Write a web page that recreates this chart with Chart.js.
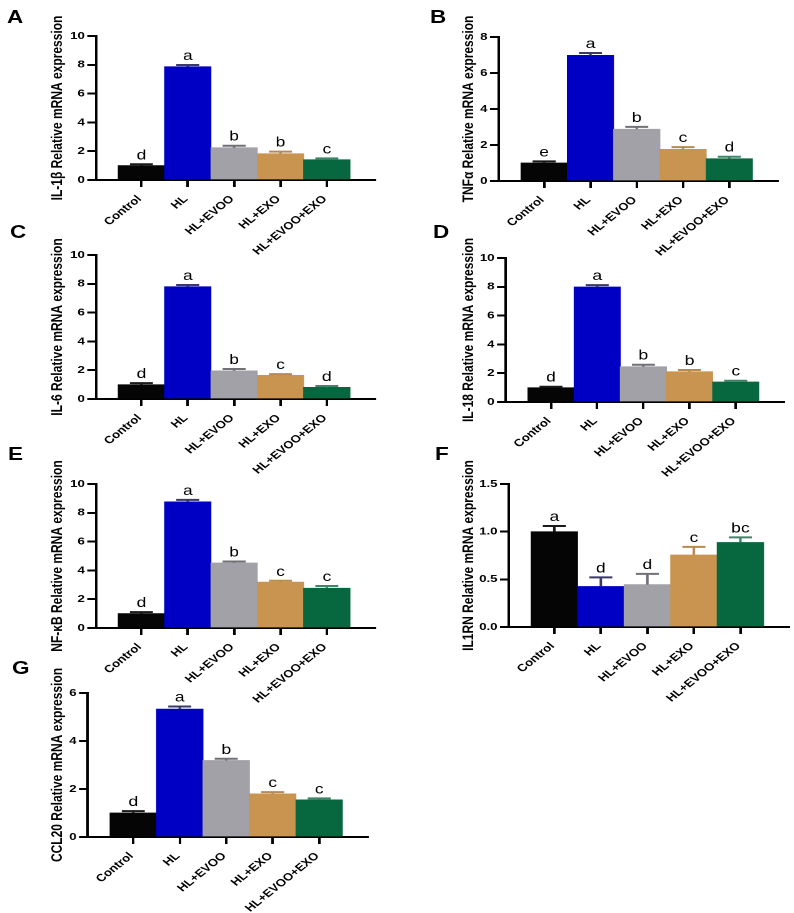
<!DOCTYPE html>
<html>
<head>
<meta charset="utf-8">
<script src="https://cdn.jsdelivr.net/npm/chart.js@4.4.0/dist/chart.umd.min.js"></script>
<style>
  html, body { margin: 0; padding: 0; background: #fff; overflow: hidden; }
  /* the source figure is stretched sideways, so draw narrow and widen the whole thing */
  #fig { position: relative; width: 635.2px; height: 913px; transform: scaleX(1.25); transform-origin: 0 0; }
  #fig canvas { position: absolute; }
  .tag { position: absolute; font: bold 18px "Liberation Sans", Arial, sans-serif; line-height: 18px; color: #000; }
</style>
</head>
<body>
<div id="fig"></div>
<script>
const groups = ['Control', 'HL', 'HL+EVOO', 'HL+EXO', 'HL+EVOO+EXO'];

const il1bMean = [1.0, 7.87, 2.24, 1.83, 1.41];
const il1bSem = [0.09, 0.12, 0.14, 0.14, 0.09];
const il1bSig = ['d', 'a', 'b', 'b', 'c'];

const tnfMean = [1.0, 6.98, 2.88, 1.76, 1.24];
const tnfSem = [0.09, 0.13, 0.13, 0.12, 0.11];
const tnfSig = ['e', 'a', 'b', 'c', 'd'];

const il6Mean = [0.99, 7.8, 1.96, 1.64, 0.81];
const il6Sem = [0.11, 0.12, 0.12, 0.09, 0.09];
const il6Sig = ['d', 'a', 'b', 'c', 'd'];

const il18Mean = [0.99, 7.99, 2.45, 2.1, 1.39];
const il18Sem = [0.07, 0.13, 0.14, 0.12, 0.09];
const il18Sig = ['d', 'a', 'b', 'b', 'c'];

const nfkbMean = [1.0, 8.76, 4.52, 3.19, 2.76];
const nfkbSem = [0.1, 0.14, 0.1, 0.09, 0.16];
const nfkbSig = ['d', 'a', 'b', 'c', 'c'];

const il1rnMean = [1.0, 0.425, 0.445, 0.756, 0.887];
const il1rnSem = [0.06, 0.095, 0.112, 0.084, 0.053];
const il1rnSig = ['a', 'd', 'd', 'c', 'bc'];

const ccl20Mean = [1.0, 5.33, 3.19, 1.8, 1.55];
const ccl20Sem = [0.08, 0.11, 0.07, 0.07, 0.06];
const ccl20Sig = ['d', 'a', 'b', 'c', 'c'];

const barColors = ['#050505', '#0000c4', '#a1a1a7', '#c8944f', '#07683f'];
const errColors = ['#1a1a1a', '#3a3a6a', '#707076', '#b88a52', '#3f856a'];

const panels = [
  { tag: 'A', title: 'IL-1β Relative mRNA expression', mean: il1bMean, sem: il1bSem, sig: il1bSig, yMax: 10, yStep: 2 },
  { tag: 'B', title: 'TNFα Relative mRNA expression', mean: tnfMean, sem: tnfSem, sig: tnfSig, yMax: 8, yStep: 2 },
  { tag: 'C', title: 'IL-6 Relative mRNA expression', mean: il6Mean, sem: il6Sem, sig: il6Sig, yMax: 10, yStep: 2 },
  { tag: 'D', title: 'IL-18 Relative mRNA expression', mean: il18Mean, sem: il18Sem, sig: il18Sig, yMax: 10, yStep: 2 },
  { tag: 'E', title: 'NF-κB Relative mRNA expression', mean: nfkbMean, sem: nfkbSem, sig: nfkbSig, yMax: 10, yStep: 2 },
  { tag: 'F', title: 'IL1RN Relative mRNA expression', mean: il1rnMean, sem: il1rnSem, sig: il1rnSig, yMax: 1.5, yStep: 0.5, dec: 1 },
  { tag: 'G', title: 'CCL20 Relative mRNA expression', mean: ccl20Mean, sem: ccl20Sem, sig: ccl20Sig, yMax: 6, yStep: 2 }
];

// axis box of each panel (x in unstretched px, y in page px) and where the panel letter sits
const layout = {
  A: { axL: 76.8, axR: 300.8, axT: 36, axB: 180, tx: 46, lx: 5.6, ly: 10 },
  B: { axL: 399.2, axR: 622.4, axT: 37.3, axB: 181.7, tx: 375.2, lx: 344, ly: 10 },
  C: { axL: 76.8, axR: 300.8, axT: 255, axB: 399.3, tx: 46, lx: 8, ly: 225 },
  D: { axL: 404.8, axR: 628, axT: 258.3, axB: 402.3, tx: 375.2, lx: 346.4, ly: 225 },
  E: { axL: 76.8, axR: 300.8, axT: 484.3, axB: 629.3, tx: 46, lx: 6.4, ly: 447 },
  F: { axL: 407.2, axR: 631.2, axT: 484, axB: 627.7, tx: 375.2, lx: 348, ly: 447 },
  G: { axL: 70.2, axR: 294.2, axT: 693.3, axB: 837.7, tx: 46, lx: 9.6, ly: 661 }
};

const FONT = '"Liberation Sans", Arial, sans-serif';
Chart.defaults.font.family = FONT;
Chart.defaults.color = '#000';

const titleSize = 12;
const halfLine = titleSize * 1.2 / 2;

function errorBars(p) {
  return {
    id: 'errorBars' + p.tag,
    afterDatasetsDraw(chart) {
      const ctx = chart.ctx;
      const y = chart.scales.y;
      const meta = chart.getDatasetMeta(0);
      ctx.save();
      p.mean.forEach((m, i) => {
        const bar = meta.data[i];
        const top = y.getPixelForValue(m + p.sem[i]);
        ctx.strokeStyle = errColors[i];
        ctx.lineWidth = 2;
        ctx.beginPath();
        ctx.moveTo(bar.x, bar.y);
        ctx.lineTo(bar.x, top);
        ctx.moveTo(bar.x - 9.2, top);
        ctx.lineTo(bar.x + 9.2, top);
        ctx.stroke();
        ctx.fillStyle = '#000';
        ctx.font = '14px ' + FONT;
        ctx.textAlign = 'center';
        ctx.textBaseline = 'alphabetic';
        ctx.fillText(p.sig[i], bar.x, top - 5);
      });
      ctx.restore();
    }
  };
}

const fig = document.getElementById('fig');

panels.forEach(p => {
  const g = layout[p.tag];
  const cx = g.tx - 20;
  const cy = g.axT - 40;
  const w = g.axR - cx + 24;
  const h = g.axB - cy + 76;

  const tag = document.createElement('div');
  tag.className = 'tag';
  tag.textContent = p.tag;
  tag.style.left = g.lx + 'px';
  tag.style.top = (g.ly - 2.35) + 'px';
  fig.appendChild(tag);

  const canvas = document.createElement('canvas');
  canvas.width = w;
  canvas.height = h;
  canvas.style.left = cx + 'px';
  canvas.style.top = cy + 'px';
  fig.appendChild(canvas);

  new Chart(canvas, {
    type: 'bar',
    data: {
      datasets: [{
        data: p.mean.map((v, i) => ({ x: i, y: v })),
        backgroundColor: barColors,
        borderWidth: 0,
        barPercentage: 1,
        categoryPercentage: 1
      }]
    },
    options: {
      responsive: false,
      animation: false,
      devicePixelRatio: 2,
      layout: {
        padding: { left: g.tx - cx - halfLine, top: g.axT - cy, right: cx + w - g.axR, bottom: 0 }
      },
      plugins: {
        legend: { display: false },
        tooltip: { enabled: false }
      },
      scales: {
        x: {
          type: 'linear',
          min: -0.98,
          max: 5.04,
          offset: false,
          afterFit: s => { s.height = cy + h - g.axB; },
          afterBuildTicks: s => { s.ticks = groups.map((c, i) => ({ value: i })); },
          border: { display: true, color: '#000', width: 2 },
          grid: { display: true, offset: false, drawOnChartArea: false, drawTicks: true, tickLength: 7, color: '#000', lineWidth: 2 },
          ticks: {
            autoSkip: false,
            minRotation: 45,
            maxRotation: 45,
            padding: 6,
            labelOffset: -1.5,
            font: { size: 10.5, weight: 'bold' },
            callback: v => groups[v]
          }
        },
        y: {
          min: 0,
          max: p.yMax,
          afterFit: s => { s.width = g.axL - g.tx + halfLine; },
          border: { display: true, color: '#000', width: 2 },
          grid: { display: true, drawOnChartArea: false, drawTicks: true, tickLength: 7, color: '#000', lineWidth: 2 },
          ticks: {
            stepSize: p.yStep,
            padding: 2,
            font: { size: 10.5, weight: 'bold' },
            callback: v => p.dec ? v.toFixed(p.dec) : v
          },
          title: {
            display: true,
            text: p.title,
            padding: 0,
            font: { size: titleSize, weight: 'bold' }
          }
        }
      }
    },
    plugins: [errorBars(p)]
  });
});
</script>
</body>
</html>
